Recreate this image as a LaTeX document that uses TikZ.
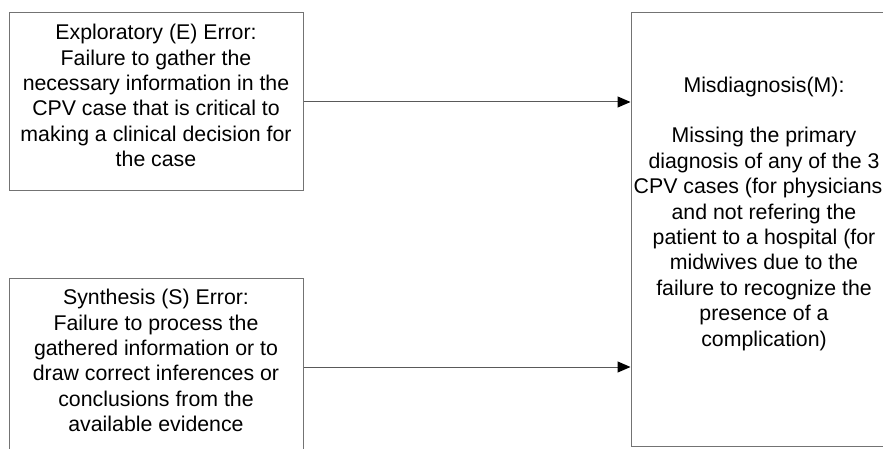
\documentclass[tikz,border=0pt]{standalone}
\usepackage{fontspec}
\setmainfont{Liberation Sans}
\usetikzlibrary{calc, positioning, arrows.meta}

\begin{document}
\begin{tikzpicture}[x=1pt, y=-1pt,
  errbox/.style={draw=black!55, line width=1pt, align=center, inner sep=0pt, text depth=13pt,
    font=\fontsize{21.3}{25.4}\selectfont},
  flow/.style={draw=black!65, line width=1pt, -{Triangle[length=13pt, width=11pt, color=black]}}]
\useasboundingbox (0,0) rectangle (883,449);

\node[errbox, minimum width=294pt, minimum height=178pt] (explore) at (156,102)
{Exploratory (E) Error:\\ Failure to gather the\\ necessary information in the\\
CPV case that is critical to\\ making a clinical decision for\\ the case};

\node[errbox, minimum width=294pt, minimum height=178pt] (synth) at (156,367)
{Synthesis (S) Error:\\ Failure to process the\\ gathered information or to\\
draw correct inferences or\\ conclusions from the\\ available evidence};

\node[errbox, minimum width=266pt, minimum height=433pt, text depth=36pt] (misdiag) at (764,229.5)
{Misdiagnosis(M):\\[25pt] Missing the primary\\ diagnosis of any of the 3\\
\hspace*{-12pt}CPV cases (for physicians\\ and not refering the\\ patient to a hospital (for\\
midwives due to the\\ failure to recognize the\\ presence of a\\ complication)};

\draw[flow] (explore.east) -- (explore.east -| misdiag.west);% both errors lead to M
\draw[flow] (synth.east) -- (synth.east -| misdiag.west);

\end{tikzpicture}
\end{document}
